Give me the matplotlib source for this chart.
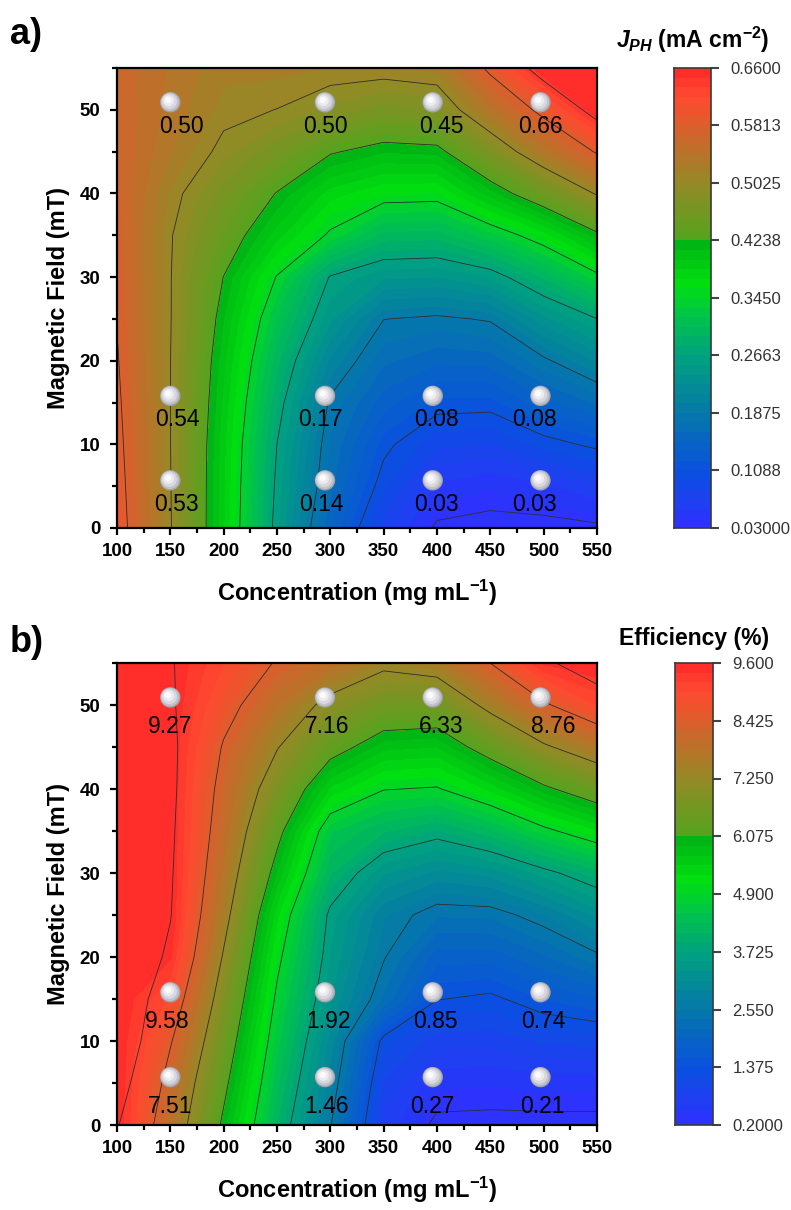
import numpy as np
import matplotlib
matplotlib.use('Agg')
import matplotlib.pyplot as plt
from matplotlib.colors import LinearSegmentedColormap
from matplotlib.ticker import MultipleLocator, FixedLocator
from matplotlib.transforms import offset_copy

plt.rcParams['font.family'] = ['Liberation Sans', 'DejaVu Sans']
plt.rcParams['mathtext.fontset'] = 'custom'
plt.rcParams['mathtext.rm'] = 'Liberation Sans:bold'
plt.rcParams['mathtext.it'] = 'Liberation Sans:italic:bold'
plt.rcParams['mathtext.bf'] = 'Liberation Sans:bold'

# grid of the gridded surface
conc = [100, 150, 200, 250, 300, 350, 400, 450, 500, 550]
field = [0, 5, 10, 15, 20, 25, 30, 35, 40, 45, 50, 55]

# J_PH surface, one list per concentration, field 0 -> 55
jph_cols = [
    [0.600, 0.596, 0.592, 0.588, 0.584, 0.580, 0.577, 0.574, 0.571, 0.568, 0.565, 0.562],
    [0.505, 0.504, 0.503, 0.503, 0.503, 0.504, 0.504, 0.505, 0.513, 0.529, 0.537, 0.540],
    [0.384, 0.385, 0.387, 0.393, 0.400, 0.410, 0.423, 0.447, 0.468, 0.495, 0.510, 0.520],
    [0.255, 0.260, 0.266, 0.279, 0.296, 0.316, 0.343, 0.389, 0.422, 0.465, 0.502, 0.520],
    [0.147, 0.164, 0.172, 0.183, 0.210, 0.242, 0.264, 0.340, 0.377, 0.427, 0.485, 0.515],
    [0.075, 0.098, 0.115, 0.140, 0.164, 0.188, 0.242, 0.300, 0.358, 0.411, 0.468, 0.515],
    [0.025, 0.053, 0.085, 0.118, 0.150, 0.183, 0.239, 0.298, 0.356, 0.414, 0.477, 0.520],
    [0.020, 0.044, 0.081, 0.117, 0.153, 0.190, 0.253, 0.325, 0.403, 0.473, 0.537, 0.590],
    [0.020, 0.053, 0.100, 0.142, 0.183, 0.234, 0.293, 0.362, 0.453, 0.533, 0.593, 0.690],
    [0.025, 0.067, 0.114, 0.163, 0.214, 0.266, 0.337, 0.417, 0.506, 0.585, 0.685, 0.720],
]

# efficiency surface, one list per concentration, field 0 -> 55
eff_cols = [
    [9.67, 10.1, 10.5, 10.5, 10.6, 10.6, 10.6, 10.6, 10.6, 10.6, 10.6, 10.6],
    [7.85, 8.11, 8.49, 8.96, 9.42, 9.64, 9.70, 9.75, 9.80, 9.80, 9.70, 9.65],
    [5.95, 6.24, 6.54, 6.85, 7.18, 7.51, 7.77, 7.98, 8.14, 8.36, 8.71, 9.01],
    [4.11, 4.34, 4.57, 4.80, 5.04, 5.33, 5.83, 6.28, 6.79, 7.29, 7.84, 8.37],
    [2.58, 2.82, 3.04, 3.32, 3.50, 3.62, 4.12, 4.53, 5.43, 6.34, 7.02, 7.93],
    [0.72, 0.95, 1.25, 2.30, 2.58, 2.77, 3.34, 4.13, 4.92, 5.74, 6.60, 7.40],
    [0.10, 0.43, 0.88, 1.39, 1.85, 2.37, 3.07, 3.88, 4.86, 5.67, 6.56, 7.60],
    [0.08, 0.41, 0.85, 1.30, 1.84, 2.39, 3.20, 4.23, 5.33, 6.37, 7.46, 8.43],
    [0.08, 0.45, 1.01, 1.57, 2.11, 2.72, 3.60, 4.78, 5.96, 7.15, 8.33, 9.42],
    [0.08, 0.45, 1.07, 1.74, 2.48, 3.18, 4.02, 5.25, 6.49, 7.72, 9.01, 10.2],
]

# measured points
pt_conc = [150, 295, 396, 497]
pt_field = [5.7, 15.8, 50.9]
jph_pts = [['0.53', '0.14', '0.03', '0.03'],
           ['0.54', '0.17', '0.08', '0.08'],
           ['0.50', '0.50', '0.45', '0.66']]
eff_pts = [['7.51', '1.46', '0.27', '0.21'],
           ['9.58', '1.92', '0.85', '0.74'],
           ['9.27', '7.16', '6.33', '8.76']]

jph_ticks = ['0.03000', '0.1088', '0.1875', '0.2663', '0.3450',
             '0.4238', '0.5025', '0.5813', '0.6600']
eff_ticks = ['0.2000', '1.375', '2.550', '3.725', '4.900',
             '6.075', '7.250', '8.425', '9.600']

cmap = LinearSegmentedColormap.from_list('origin_rgb', [
    (0.00, '#3030ff'),
    (0.12, '#0a50e0'),
    (0.25, '#0578a8'),
    (0.37, '#00a080'),
    (0.45, '#00c050'),
    (0.53, '#00e010'),
    (0.62, '#00b414'),
    (0.63, '#54a41e'),
    (0.75, '#948a26'),
    (0.87, '#d8602c'),
    (0.94, '#ff4a30'),
    (1.00, '#ff2a2a'),
])

# shading layers of the little spheres: size, colour, highlight shift (pt)
ball_layers = [(215, '#a4a4ae', 0), (175, '#c2c2ca', -0.3), (120, '#d8d8de', -0.7),
               (60, '#ececf0', -1.2), (20, '#fbfbfd', -1.6)]

fig = plt.figure(figsize=(7.91, 12.10), dpi=100)
W, H = 791.0, 1210.0


def box(x0, y0, x1, y1):
    return [x0 / W, 1 - y1 / H, (x1 - x0) / W, (y1 - y0) / H]


def panel(ax, cax, cols, vmin, vmax, ticklabels, labels, dy, dxs):
    Z = np.array(cols).T
    X, Y = np.meshgrid(conc, field)
    fill_levels = np.linspace(vmin, vmax, 49)
    cs = ax.contourf(X, Y, np.clip(Z, vmin, vmax), levels=fill_levels, cmap=cmap,
                     vmin=vmin, vmax=vmax)
    cs.set_edgecolor('face')
    cs.set_linewidth(0.6)
    major = np.linspace(vmin, vmax, 9)
    ax.contour(X, Y, Z, levels=major, colors='#2e2e2e', linewidths=0.6)

    # shiny balls
    px, py = np.meshgrid(pt_conc, pt_field)
    for s, c, off in ball_layers:
        tr = offset_copy(ax.transData, fig=fig, x=off, y=-off, units='points')
        ax.scatter(px.ravel(), py.ravel(), s=s, c=c, edgecolors='none', zorder=5,
                   transform=tr)
    for i, f in enumerate(pt_field):
        for j, c in enumerate(pt_conc):
            tr = offset_copy(ax.transData, fig=fig, x=dxs[i][j] * 0.72, y=-dy * 0.72,
                             units='points')
            ax.text(c, f, labels[i][j], transform=tr, ha='center', va='center',
                    fontsize=16.5, color='black', zorder=6)

    ax.set_xlim(100, 550)
    ax.set_ylim(0, 55)
    ax.xaxis.set_major_locator(MultipleLocator(50))
    ax.xaxis.set_minor_locator(MultipleLocator(25))
    ax.yaxis.set_major_locator(MultipleLocator(10))
    ax.yaxis.set_minor_locator(MultipleLocator(5))
    ax.tick_params(which='both', direction='out', top=False, right=False, width=1.6)
    ax.tick_params(which='major', length=5)
    ax.tick_params(which='minor', length=3.5)
    ax.tick_params(axis='x', which='major', pad=6)
    ax.tick_params(axis='y', which='major', pad=7)
    for lab in ax.get_xticklabels() + ax.get_yticklabels():
        lab.set_fontweight('bold')
        lab.set_fontsize(13.5)
    for sp in ax.spines.values():
        sp.set_linewidth(1.6)
    ax.set_xlabel('Concentration (mg mL$^{-1}$)', fontsize=17, fontweight='bold')
    ax.set_ylabel('Magnetic Field (mT)', fontsize=17, fontweight='bold')
    ax.xaxis.set_label_coords(0.5, -0.108)
    ax.yaxis.set_label_coords(-0.098, 0.5)

    # colour bar
    cb_levels = np.linspace(vmin, vmax, 49)
    cax.pcolormesh([0, 1], cb_levels, ((cb_levels[:-1] + cb_levels[1:]) / 2)[:, None],
                   cmap=cmap, vmin=vmin, vmax=vmax, shading='flat')
    cax.set_xlim(0, 1)
    cax.set_ylim(vmin, vmax)
    cax.set_xticks([])
    cax.yaxis.tick_right()
    cax.yaxis.set_major_locator(FixedLocator(major))
    cax.set_yticklabels(ticklabels)
    cax.tick_params(axis='y', length=6, width=1.5, color='#444444', pad=8,
                    labelsize=12, labelcolor='#333333')
    for sp in cax.spines.values():
        sp.set_linewidth(1.2)
        sp.set_color('#3a3a3a')


ax_a = fig.add_axes(box(117, 68, 597, 528))
cax_a = fig.add_axes(box(674, 68, 711, 528))
ax_b = fig.add_axes(box(117, 663, 597, 1125))
cax_b = fig.add_axes(box(675, 663, 713, 1125))

dx_a = [[6, -4, 4, -6], [7, -5, 4, -6], [11, 0, 9, 0]]
dx_b = [[0, 2, 0, 2], [-3, 3, 3, 3], [0, 2, 8, 13]]

panel(ax_a, cax_a, jph_cols, 0.03, 0.66, jph_ticks, jph_pts, 24, dx_a)
panel(ax_b, cax_b, eff_cols, 0.2, 9.6, eff_ticks, eff_pts, 29, dx_b)

fig.text(693 / W, 1 - 40 / H, r'$J_{PH}$ (mA cm$^{-2}$)', ha='center', va='center',
         fontsize=16.5, fontweight='bold')
fig.text(694 / W, 1 - 639 / H, 'Efficiency (%)', ha='center', va='center',
         fontsize=16.5, fontweight='bold')
fig.text(10 / W, 1 - 34 / H, 'a)', ha='left', va='center', fontsize=26, fontweight='bold')
fig.text(10 / W, 1 - 642 / H, 'b)', ha='left', va='center', fontsize=26, fontweight='bold')

fig.savefig('out.png', dpi=100)
